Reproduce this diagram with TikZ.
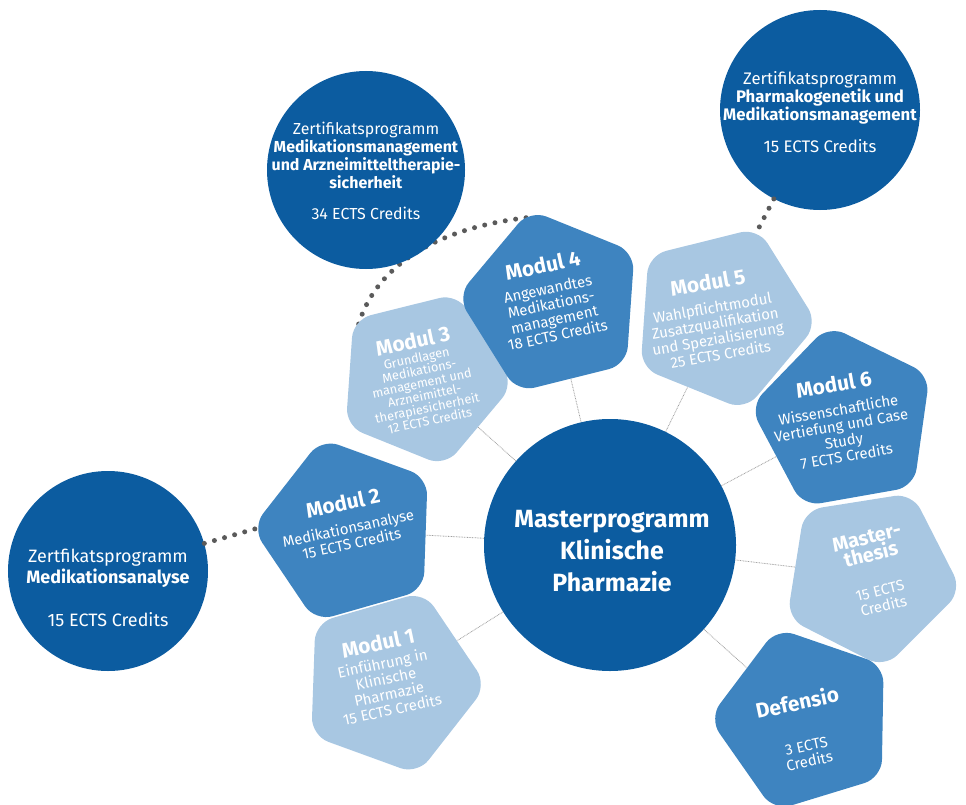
\documentclass[tikz,border=0pt]{standalone}
\usepackage{fontspec}
\setmainfont{Fira Sans}
\usetikzlibrary{shapes.geometric,calc}
\pgfdeclarelayer{bg}
\pgfsetlayers{bg,main}
\definecolor{dblue}{RGB}{12,92,160}
\definecolor{mblue}{RGB}{62,132,192}
\definecolor{lblue}{RGB}{168,199,226}
\definecolor{dotgray}{RGB}{90,90,90}
\newcommand{\mttl}[1]{\fontsize{21}{22}\selectfont\bfseries #1}
\begin{document}
\begin{tikzpicture}[x=1bp,y=-1bp,
  pent/.style={regular polygon, regular polygon sides=5, minimum size=192bp, inner sep=0pt, rounded corners=18bp},
  zcirc/.style={circle, fill=dblue, minimum size=#1, inner sep=0pt},
  ztext/.style={text=white, align=center, font=\fontsize{16.8}{18}\selectfont},
  mtext/.style={text=white, align=center, font=\fontsize{15}{15.8}\selectfont},
  thinline/.style={draw=gray!75, line width=0.8bp, dash pattern=on 0.8bp off 0.8bp},
  bigdots/.style={draw=dotgray, line width=5bp, line cap=round, dash pattern=on 0bp off 10.5bp}
]
\useasboundingbox (0,0) rectangle (966,805);

% centre
\node[zcirc=252bp] (c) at (610,545) {};
\node[text=white, align=center, font=\fontsize{25}{32}\selectfont\bfseries] (ct) at (612,551) {Masterprogramm\\Klinische\\Pharmazie};

% certificate circles
\node[zcirc=200bp] (zl) at (108,571) {};
\node[ztext, font=\fontsize{18}{21}\selectfont] (zlt) at (108,588) {Zertfikatsprogramm\\\textbf{Medikationsanalyse}\\[22bp]15 ECTS Credits};
\node[zcirc=198bp] (ztl) at (366,170) {};
\node[ztext, font=\fontsize{16}{18}\selectfont] (ztlt) at (366,171) {Zertifikatsprogramm\\\textbf{Medikationsmanagement}\\\textbf{und Arzneimitteltherapie-}\\\textbf{sicherheit}\\[13bp]34 ECTS Credits};
\node[zcirc=200bp] (ztr) at (820,110) {};
\node[ztext] (ztrt) at (820,112) {Zertifikatsprogramm\\\textbf{Pharmakogenetik und}\\\textbf{Medikationsmanagement}\\[14bp]15 ECTS Credits};

% pentagons
\node[pent, fill=lblue, rotate=-20] (m1) at (391,682) {};
\node[pent, fill=mblue, rotate=16] (m2) at (348,531) {};
\node[pent, fill=lblue, rotate=-22, minimum size=182bp] (m3) at (423,378) {};
\node[pent, fill=mblue, rotate=14] (m4) at (553,303) {};
\node[pent, fill=lblue, rotate=-22] (m5) at (722,317) {};
\node[pent, fill=mblue, rotate=10] (m6) at (845,420) {};
\node[pent, fill=lblue, rotate=-27, minimum size=186bp] (m7) at (870,576) {};
\node[pent, fill=mblue, rotate=17] (m8) at (805,720) {};

% texts
\node[mtext, rotate=12] (t1) at (385,675) {\mttl{Modul 1}\\[3bp]Einführung in\\Klinische\\Pharmazie\\15 ECTS Credits};
\node[mtext, rotate=12] (t2) at (347,522) {\mttl{Modul 2}\\[8bp]Medikationsanalyse\\15 ECTS Credits};
\node[mtext, rotate=12, font=\fontsize{12.8}{12.8}\selectfont] (t3) at (421,379) {\mttl{Modul 3}\\[2bp]Grundlagen\\Medikations-\\management und\\Arzneimittel-\\therapiesicherheit\\12 ECTS Credits};
\node[mtext, rotate=12] (t4) at (550,299) {\mttl{Modul 4}\\[6bp]Angewandtes\\Medikations-\\management\\18 ECTS Credits};
\node[mtext, rotate=10] (t5) at (714,317) {\mttl{Modul 5}\\[8bp]Wahlpflichtmodul\\Zusatzqualifikation\\und Spezialisierung\\25 ECTS Credits};
\node[mtext, rotate=10] (t6) at (840,419) {\mttl{Modul 6}\\[8bp]Wissenschaftliche\\Vertiefung und Case\\Study\\7 ECTS Credits};
\node[mtext, rotate=14] (t7) at (875,571) {\fontsize{20}{19.5}\selectfont\bfseries Master-\\\fontsize{20}{19.5}\selectfont\bfseries thesis\\[20bp]15 ECTS\\Credits};
\node[mtext, rotate=12] (t8) at (803,730) {\mttl{Defensio}\\[26bp]3 ECTS\\Credits};

% thin connectors
\foreach \m in {m1,m2,m3,m4,m5,m6,m7,m8}
  \path[thinline] (c) -- (\m);

% thick dotted connectors
\coordinate (p2) at ($(m2.corner 2)!0.07!(m2.center)$);
\coordinate (p5) at ($(m5.corner 1)!0.08!(m5.center)$);
\coordinate (p3) at ($(m3.corner 2)!0.08!(m3.center)$);
\coordinate (p4) at ($(m4.corner 1)!0.08!(m4.center)$);
\path[bigdots] (zl) -- (p2);
\path[bigdots] (ztr) -- (p5);
\begin{pgfonlayer}{bg}
\path[bigdots] (p3) .. controls (375,270) and (430,228) .. (p4);
\end{pgfonlayer}
\end{tikzpicture}
\end{document}
